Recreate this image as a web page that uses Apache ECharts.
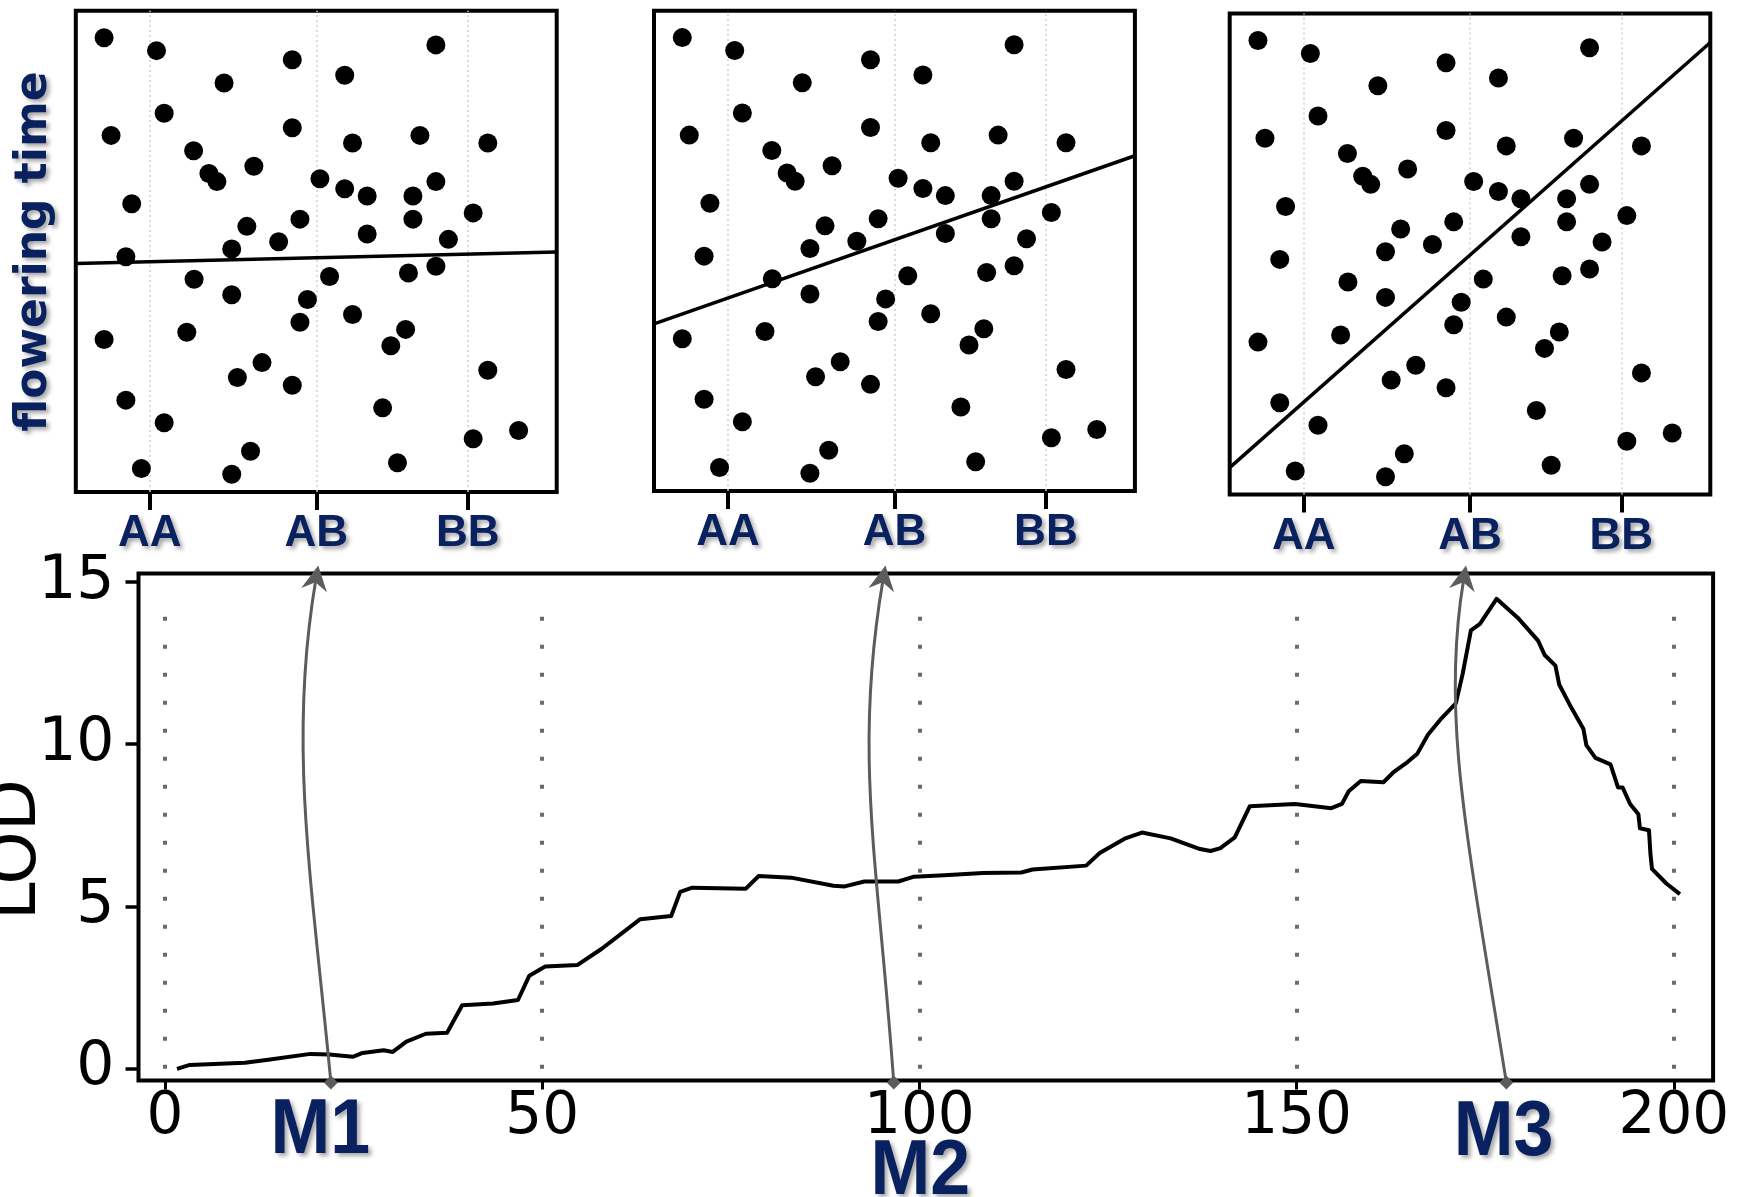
<!DOCTYPE html>
<html><head><meta charset="utf-8">
<script src="https://cdn.jsdelivr.net/npm/echarts@6/dist/echarts.min.js"></script>
<style>html,body{margin:0;padding:0;background:#fff}#c{width:1741px;height:1197px}</style>
</head><body><div id="c"></div>
<script>
// ---------- data ----------
const genotypeTicks = [0, 1, 1.91];
const genotypeLabels = ['AA', 'AB', 'BB'];
const genotypeRange = [-0.445, 2.445];
const plantGenotype = [-0.275, 0.04, 0.856, 1.719, 0.446, 1.171, 0.086, -0.233, 0.856, 1.218, 1.623, 2.031, 0.263, 0.355, 0.403, 0.625, 1.022, 1.171, 1.306, 1.581, 1.719, -0.109, 1.943, 0.583, 0.902, 1.581, 1.306, 1.794, 0.774, 0.492, -0.144, 0.266, 1.080, 1.554, 1.719, 0.492, 0.947, 1.218, 0.902, 0.222, -0.275, 1.537, 1.448, 0.674, 0.526, 0.856, 2.031, -0.144, 0.086, 1.399, 1.943, 2.216, -0.051, 0.492, 0.605, 1.488];
const floweringTime = [94.4, 91.7, 89.8, 92.9, 85.0, 86.6, 78.7, 74.1, 75.7, 72.5, 74.1, 72.5, 70.9, 66.2, 64.5, 67.7, 65.1, 63.0, 61.5, 61.5, 64.5, 59.9, 58.0, 55.2, 56.7, 56.7, 53.6, 52.5, 52.0, 50.5, 48.9, 44.2, 44.8, 45.5, 46.9, 41.0, 40.0, 36.9, 35.3, 33.2, 31.7, 33.8, 30.4, 26.9, 23.8, 22.2, 25.3, 19.1, 14.4, 17.5, 11.1, 12.8, 4.9, 3.7, 8.5, 6.1];
const fitLineY = [[47.5, 49.9], [34.8, 69.8], [5.6, 94.0]];

const lodPos = [1.6, 3.3, 10.6, 13.7, 19.3, 21.8, 24.9, 26.2, 29.0, 30.2, 32.0, 34.6, 37.4, 39.4, 43.5, 46.8, 48.3, 50.4, 54.7, 57.9,
  63.0, 67.1, 68.3, 69.9, 77.0, 78.7, 83.0, 88.6, 90.1, 92.7, 97.2, 99.3, 103.3, 108.4, 113.5, 115.0, 122.1, 123.9, 127.2, 129.5, 133.3, 135.3, 137.2,
  138.6, 139.9, 141.8, 143.8, 149.8, 154.6, 156.0, 156.9, 158.5, 161.5, 162.8, 164.7, 166.0, 167.4, 169.2, 171.1, 172.0, 173.1, 174.3, 176.5, 179.3, 182.0, 182.9, 184.3, 184.8, 186.4, 188.0, 188.4, 189.6, 191.6, 192.6, 193.2, 194.2, 195.3, 195.5, 196.7, 196.9, 197.1, 199.0, 200.8];
const lodValue = [0.0, 0.12, 0.19, 0.28, 0.46, 0.44, 0.37, 0.49, 0.57, 0.52, 0.84, 1.08, 1.11, 1.96, 2.01, 2.12, 2.87, 3.15, 3.20, 3.70,
  4.61, 4.71, 5.45, 5.58, 5.55, 5.94, 5.89, 5.64, 5.62, 5.77, 5.77, 5.92, 5.96, 6.03, 6.05, 6.14, 6.26, 6.65, 7.09, 7.28, 7.10, 6.93, 6.77,
  6.71, 6.80, 7.13, 8.09, 8.16, 8.03, 8.16, 8.55, 8.87, 8.83, 9.13, 9.45, 9.71, 10.29, 10.80, 11.26, 12.16, 13.51, 13.71, 14.48, 13.90, 13.19, 12.74, 12.42, 11.84, 11.13, 10.48, 9.97, 9.58, 9.38, 8.67, 8.67, 8.16, 7.84, 7.41, 7.35, 6.61, 6.16, 5.71, 5.38];
const cmTicks = [0, 50, 100, 150, 200];
const cmRange = [-3.5, 205.2];
const lodTicks = [0, 5, 10, 15];
const lodRange = [-0.36, 15.26];
const guideTop = 14.6;
const markerNames = ['M1', 'M2', 'M3'];
const markerPos = [22.0, 96.6, 177.8];

// ---------- styling ----------
const NAVY = '#0a2160';
const GRAY = '#5c5c5c';
const shadow = {textShadowColor: 'rgba(0,0,0,0.35)', textShadowBlur: 4, textShadowOffsetX: 3, textShadowOffsetY: 3};
const topGrids = [
  {left: 75.8, top: 10.7, width: 480.9, height: 481.4},
  {left: 654, top: 10.7, width: 480.9, height: 480.3},
  {left: 1229.7, top: 13.6, width: 480.6, height: 481}
];
const lodGrid = {left: 138.5, top: 573.5, width: 1574.6, height: 507};
// arrow shape tuning (pixel offsets)
const tipShift = [2, -9, -4];
const c1Off = [[-18.8, -200], [-15.6, -220], [-40, -250]];
const c2Off = [[-30.6, 180], [-32.3, 190], [-25, 150]];
const labelOff = [[-10.5, 51], [26.6, 92], [-2.7, 53]];

function genoLabel(v) {
  let best = 0;
  genotypeTicks.forEach((t, k) => { if (Math.abs(t - v) < Math.abs(genotypeTicks[best] - v)) best = k; });
  return genotypeLabels[best];
}

const chart = echarts.init(document.getElementById('c'), null, {renderer: 'canvas', width: 1741, height: 1197});

const grid = topGrids.map(g => Object.assign({}, g, {show: true, borderColor: '#000', borderWidth: 4, backgroundColor: 'transparent', outerBoundsMode: 'none', containLabel: false}));
grid.push(Object.assign({}, lodGrid, {show: true, borderColor: '#000', borderWidth: 4, backgroundColor: 'transparent', outerBoundsMode: 'none', containLabel: false}));

const xAxis = [0, 1, 2].map(i => ({
  gridIndex: i, type: 'value', min: genotypeRange[0], max: genotypeRange[1], position: 'bottom',
  axisLine: {show: false, onZero: false}, splitLine: {show: false},
  axisTick: {show: true, customValues: genotypeTicks, length: 18, lineStyle: {color: '#000', width: 4}},
  axisLabel: Object.assign({show: true, customValues: genotypeTicks, formatter: genoLabel, margin: 20, color: NAVY,
    fontFamily: 'Liberation Sans', fontWeight: 'bold', fontSize: 44}, shadow)
}));
xAxis.push({
  gridIndex: 3, type: 'value', min: cmRange[0], max: cmRange[1], position: 'bottom',
  axisLine: {show: false, onZero: false}, splitLine: {show: false},
  axisTick: {show: true, customValues: cmTicks, length: 9, lineStyle: {color: '#000', width: 3}},
  axisLabel: {show: true, customValues: cmTicks, margin: 8, color: '#000', fontFamily: 'DejaVu Sans', fontSize: 58}
});

const yAxis = [0, 1, 2].map(i => ({
  gridIndex: i, type: 'value', min: 0, max: 100, position: 'left',
  axisLine: {show: false, onZero: false}, axisTick: {show: false}, axisLabel: {show: false}, splitLine: {show: false}
}));
Object.assign(yAxis[0], {
  name: 'flowering time', nameLocation: 'middle', nameRotate: 90, nameGap: 19, nameMoveOverlap: false,
  nameTextStyle: Object.assign({color: NAVY, fontFamily: 'DejaVu Sans', fontWeight: 'bold', fontSize: 44}, shadow)
});
yAxis.push({
  gridIndex: 3, type: 'value', min: lodRange[0], max: lodRange[1], position: 'left',
  axisLine: {show: false, onZero: false}, splitLine: {show: false},
  axisTick: {show: true, customValues: lodTicks, length: 13, lineStyle: {color: '#000', width: 3.5}},
  axisLabel: {show: true, customValues: lodTicks, margin: 24, color: '#000', fontFamily: 'DejaVu Sans', fontSize: 60},
  name: 'LOD', nameLocation: 'middle', nameRotate: 90, nameGap: 87, nameMoveOverlap: false,
  nameTextStyle: {color: '#000', fontFamily: 'DejaVu Sans', fontSize: 68, padding: [0, 45, 0, 0]}
});

const series = [];
[0, 1, 2].forEach(i => {
  // light dotted genotype guides (behind the dots)
  series.push({
    type: 'line', xAxisIndex: i, yAxisIndex: i, silent: true, z: 1, data: [],
    markLine: {silent: true, symbol: ['none', 'none'], label: {show: false}, z: 1,
      lineStyle: {color: '#cfcfcf', type: [2, 3], width: 1.5},
      data: genotypeTicks.map(v => ({xAxis: v}))}
  });
  series.push({
    type: 'scatter', xAxisIndex: i, yAxisIndex: i, silent: true, z: 5,
    data: plantGenotype.map((g, k) => [g, floweringTime[k]]),
    symbolSize: 19, itemStyle: {color: '#000', opacity: 1}
  });
  series.push({
    type: 'line', xAxisIndex: i, yAxisIndex: i, silent: true, z: 6,
    data: [[genotypeRange[0], fitLineY[i][0]], [genotypeRange[1], fitLineY[i][1]]],
    symbol: 'none', lineStyle: {color: '#000', width: 3.5}
  });
});
series.push({
  type: 'line', xAxisIndex: 3, yAxisIndex: 3, silent: true, z: 4,
  data: lodPos.map((p, k) => [p, lodValue[k]]),
  symbol: 'none', lineStyle: {color: '#000', width: 4, join: 'round'},
  markLine: {silent: true, symbol: ['none', 'none'], label: {show: false},
    lineStyle: {color: '#6b6b6b', type: [4, 24], width: 4},
    data: cmTicks.map(v => [{coord: [v, 0]}, {coord: [v, guideTop]}])}
});

chart.setOption({animation: false, backgroundColor: '#fff', grid, xAxis, yAxis, series});

// ---------- arrows & marker labels ----------
const graphics = [];
const bottomY = chart.convertToPixel({yAxisIndex: 3}, lodRange[0]);
const topY = chart.convertToPixel({yAxisIndex: 3}, lodRange[1]);
markerPos.forEach((m, i) => {
  const x0 = chart.convertToPixel({xAxisIndex: 3}, m);
  const y0 = bottomY + 2;
  const tx = chart.convertToPixel({xAxisIndex: i}, genotypeTicks[1]) + tipShift[i];
  const ty = topY - 8;
  const c2x = tx + c2Off[i][0], c2y = ty + c2Off[i][1];
  let dx = tx - c2x, dy = ty - c2y;
  const L = Math.hypot(dx, dy); dx /= L; dy /= L;
  const nx = -dy, ny = dx;
  const ex = tx - dx * 15, ey = ty - dy * 15;
  graphics.push({
    type: 'bezierCurve', z: 100, silent: true,
    shape: {x1: x0, y1: y0, x2: ex, y2: ey, cpx1: x0 + c1Off[i][0], cpy1: y0 + c1Off[i][1], cpx2: c2x, cpy2: c2y},
    style: {stroke: GRAY, lineWidth: 3, fill: 'none'}
  });
  graphics.push({
    type: 'polygon', z: 101, silent: true,
    shape: {points: [[tx, ty], [tx - dx * 25 + nx * 13, ty - dy * 25 + ny * 13], [tx - dx * 17, ty - dy * 17], [tx - dx * 25 - nx * 13, ty - dy * 25 - ny * 13]]},
    style: {fill: GRAY}
  });
  graphics.push({
    type: 'polygon', z: 101, silent: true,
    shape: {points: [[x0, y0 - 7], [x0 + 7, y0], [x0, y0 + 7], [x0 - 7, y0]]},
    style: {fill: GRAY}
  });
  graphics.push({
    type: 'text', z: 102, silent: true,
    x: x0 + labelOff[i][0], y: bottomY + labelOff[i][1], scaleX: 0.92,
    style: {text: markerNames[i], fontFamily: 'Liberation Sans', fontWeight: 'bold', fontSize: 78, fill: NAVY,
      align: 'center', verticalAlign: 'middle',
      textShadowColor: 'rgba(0,0,0,0.35)', textShadowBlur: 4, textShadowOffsetX: 3, textShadowOffsetY: 3}
  });
});
chart.setOption({graphic: graphics});
</script>
</body></html>
